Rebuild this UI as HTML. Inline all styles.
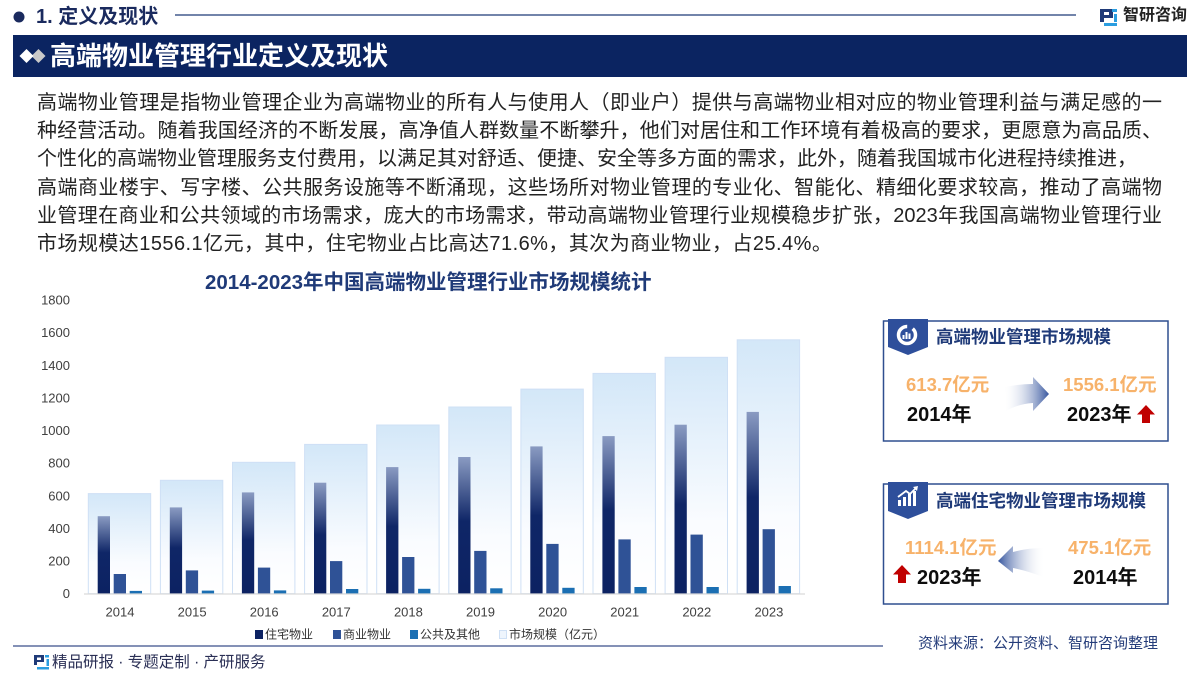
<!DOCTYPE html>
<html><head><meta charset="utf-8">
<style>
html,body{margin:0;padding:0;background:#fff;}
body{width:1200px;height:674px;position:relative;overflow:hidden;font-family:"Liberation Sans","Noto Sans CJK SC",sans-serif;}
.abs{position:absolute;white-space:nowrap;}
.para{position:absolute;left:37px;top:89px;width:1125px;font-size:20px;color:#222;}
.para div{height:28.2px;line-height:28.2px;white-space:nowrap;text-align:justify;text-align-last:justify;}
.para div.last{text-align:left;text-align-last:left;letter-spacing:0.45px;}
</style></head>
<body>
<svg width="1200" height="674" style="position:absolute;left:0;top:0" xmlns="http://www.w3.org/2000/svg">
<defs>
<linearGradient id="bg" x1="0" y1="0" x2="0" y2="1">
<stop offset="0" stop-color="#d3e7f8"/><stop offset="0.7" stop-color="#fafcff"/><stop offset="1" stop-color="#ffffff"/>
</linearGradient>
<linearGradient id="res" x1="0" y1="0" x2="0" y2="1">
<stop offset="0" stop-color="#8a9bc2"/><stop offset="0.47" stop-color="#0f2667"/><stop offset="1" stop-color="#0c2262"/>
</linearGradient>
<linearGradient id="ar1" gradientUnits="userSpaceOnUse" x1="1003" y1="0" x2="1050" y2="0">
<stop offset="0" stop-color="#ffffff" stop-opacity="0"/><stop offset="1" stop-color="#2e4f9b"/>
</linearGradient>
<linearGradient id="ar2" gradientUnits="userSpaceOnUse" x1="1045" y1="0" x2="997" y2="0">
<stop offset="0" stop-color="#ffffff" stop-opacity="0"/><stop offset="1" stop-color="#2e4f9b"/>
</linearGradient>
</defs>

<!-- header -->
<circle cx="19" cy="17" r="5.5" fill="#1a2a5e"/>
<line x1="175" y1="15" x2="1076" y2="15" stroke="#1f3a78" stroke-width="1.2"/>
<!-- logo top -->
<g>
<path d="M1100 9 H1113 V18 H1104 V22 H1100 Z M1104 12 V15 H1109 V12 Z" fill="#1f3a78" fill-rule="evenodd"/>
<rect x="1112" y="9" width="5" height="3" fill="#2a9de0"/>
<rect x="1114" y="14" width="3" height="8" fill="#2a9de0"/>
<rect x="1104" y="23" width="13" height="3" fill="#2a9de0"/>
</g>
<!-- banner -->
<rect x="13" y="35" width="1174" height="42" fill="#0b2461"/>
<polygon points="38.5,49 45.5,56 38.5,63 31.5,56" fill="#c9c9c9"/>
<polygon points="26.5,49 33.5,56 26.5,63 19.5,56" fill="#ffffff"/>

<!-- chart -->
<g>
<rect x="88.3" y="493.6" width="62.4" height="100.1" fill="url(#bg)" stroke="#cfe0f5" stroke-width="1"/>
<rect x="160.4" y="480.3" width="62.4" height="113.4" fill="url(#bg)" stroke="#cfe0f5" stroke-width="1"/>
<rect x="232.5" y="462.3" width="62.4" height="131.4" fill="url(#bg)" stroke="#cfe0f5" stroke-width="1"/>
<rect x="304.6" y="444.4" width="62.4" height="149.3" fill="url(#bg)" stroke="#cfe0f5" stroke-width="1"/>
<rect x="376.7" y="425.0" width="62.4" height="168.7" fill="url(#bg)" stroke="#cfe0f5" stroke-width="1"/>
<rect x="448.8" y="407.0" width="62.4" height="186.7" fill="url(#bg)" stroke="#cfe0f5" stroke-width="1"/>
<rect x="520.9" y="389.1" width="62.4" height="204.6" fill="url(#bg)" stroke="#cfe0f5" stroke-width="1"/>
<rect x="593.0" y="373.4" width="62.4" height="220.3" fill="url(#bg)" stroke="#cfe0f5" stroke-width="1"/>
<rect x="665.1" y="357.3" width="62.4" height="236.4" fill="url(#bg)" stroke="#cfe0f5" stroke-width="1"/>
<rect x="737.2" y="339.8" width="62.4" height="253.9" fill="url(#bg)" stroke="#cfe0f5" stroke-width="1"/>

<g fill="url(#res)">
<rect x="97.7" y="516.2" width="12.3" height="77.5"/>
<rect x="169.8" y="507.4" width="12.3" height="86.3"/>
<rect x="241.9" y="492.4" width="12.3" height="101.3"/>
<rect x="314.0" y="482.7" width="12.3" height="111.0"/>
<rect x="386.1" y="467.1" width="12.3" height="126.6"/>
<rect x="458.2" y="457.0" width="12.3" height="136.7"/>
<rect x="530.3" y="446.4" width="12.3" height="147.3"/>
<rect x="602.4" y="436.1" width="12.3" height="157.6"/>
<rect x="674.5" y="424.7" width="12.3" height="169.0"/>
<rect x="746.6" y="411.9" width="12.3" height="181.8"/>
</g>
<g fill="#2f5296">
<rect x="113.7" y="574.0" width="12.3" height="19.7"/>
<rect x="185.8" y="570.4" width="12.3" height="23.3"/>
<rect x="257.9" y="567.6" width="12.3" height="26.1"/>
<rect x="330.0" y="561.1" width="12.3" height="32.6"/>
<rect x="402.1" y="557.0" width="12.3" height="36.7"/>
<rect x="474.2" y="550.9" width="12.3" height="42.8"/>
<rect x="546.3" y="543.9" width="12.3" height="49.8"/>
<rect x="618.4" y="539.4" width="12.3" height="54.3"/>
<rect x="690.5" y="534.6" width="12.3" height="59.1"/>
<rect x="762.6" y="529.2" width="12.3" height="64.5"/>
</g>
<g fill="#1b6fb3">
<rect x="129.7" y="590.9" width="12.3" height="2.8"/>
<rect x="201.8" y="590.6" width="12.3" height="3.1"/>
<rect x="273.9" y="590.4" width="12.3" height="3.3"/>
<rect x="346.0" y="589.0" width="12.3" height="4.7"/>
<rect x="418.1" y="588.8" width="12.3" height="4.9"/>
<rect x="490.2" y="588.3" width="12.3" height="5.4"/>
<rect x="562.3" y="587.8" width="12.3" height="5.9"/>
<rect x="634.4" y="587.0" width="12.3" height="6.7"/>
<rect x="706.5" y="587.0" width="12.3" height="6.7"/>
<rect x="778.6" y="586.0" width="12.3" height="7.7"/>
</g>
<line x1="84" y1="594" x2="805" y2="594" stroke="#d9d9d9" stroke-width="1.2"/>

<g font-size="13" fill="#404040" text-anchor="end" dominant-baseline="central" font-family="Liberation Sans, sans-serif">
<text x="70" y="593.7">0</text>
<text x="70" y="561.1">200</text>
<text x="70" y="528.4">400</text>
<text x="70" y="495.8">600</text>
<text x="70" y="463.2">800</text>
<text x="70" y="430.5">1000</text>
<text x="70" y="397.9">1200</text>
<text x="70" y="365.3">1400</text>
<text x="70" y="332.6">1600</text>
<text x="70" y="300">1800</text>
</g>
<g font-size="13" fill="#404040" text-anchor="middle" dominant-baseline="central" font-family="Liberation Sans, sans-serif">
<text x="120" y="612">2014</text>
<text x="192.1" y="612">2015</text>
<text x="264.2" y="612">2016</text>
<text x="336.3" y="612">2017</text>
<text x="408.4" y="612">2018</text>
<text x="480.5" y="612">2019</text>
<text x="552.6" y="612">2020</text>
<text x="624.7" y="612">2021</text>
<text x="696.8" y="612">2022</text>
<text x="768.9" y="612">2023</text>
</g>
<!-- legend -->
<rect x="255" y="630" width="8" height="9" fill="#0c2262"/>
<rect x="333" y="630" width="8" height="9" fill="#2f5296"/>
<rect x="410" y="630" width="8" height="9" fill="#1b6fb3"/>
<rect x="499.5" y="630.5" width="7" height="8" fill="#eef5fd" stroke="#cfe0f5" stroke-width="1"/>
<g font-size="12" fill="#333" dominant-baseline="central" font-family="Liberation Sans, Noto Sans CJK SC, sans-serif">
<text x="265" y="634.5">住宅物业</text>
<text x="343" y="634.5">商业物业</text>
<text x="420" y="634.5">公共及其他</text>
<text x="509" y="634.5">市场规模（亿元）</text>
</g>
</g>

<!-- footer -->
<line x1="13" y1="646" x2="883" y2="646" stroke="#3a4f8a" stroke-width="1.3"/>
<g>
<path d="M34 655 H44 V662 H37 V665 H34 Z M37 657.5 V660 H41 V657.5 Z" fill="#1f3a78" fill-rule="evenodd"/>
<rect x="45" y="655" width="4" height="2.5" fill="#2a9de0"/>
<rect x="46.5" y="659" width="2.5" height="7" fill="#2a9de0"/>
<rect x="37" y="667" width="12" height="2.5" fill="#2a9de0"/>
</g>

<!-- panel 1 -->
<rect x="883.5" y="321" width="284.5" height="120" fill="#fff" stroke="#2f4f8f" stroke-width="1.5"/>
<polygon points="888,319 928,319 928,347 908,355 888,347" fill="#2e4f9b"/>
<circle cx="907" cy="335" r="8.5" fill="none" stroke="#fff" stroke-width="3.5" stroke-dasharray="40 6"/>
<rect x="902.5" y="335" width="2" height="4" fill="#fff"/>
<rect x="905.5" y="332" width="2" height="7" fill="#fff"/>
<rect x="908.5" y="333.5" width="2" height="5.5" fill="#fff"/>
<path d="M1005 387 Q1020 384 1033 384 L1033 377 L1049 394 L1033 411 L1033 403 Q1018 404 1006 411 Z" fill="url(#ar1)"/>
<polygon points="1146,405 1155,414.5 1150,414.5 1150,423 1142,423 1142,414.5 1137,414.5" fill="#c00000"/>

<!-- panel 2 -->
<rect x="883.5" y="484" width="284.5" height="120" fill="#fff" stroke="#2f4f8f" stroke-width="1.5"/>
<polygon points="888,482 928,482 928,511 908,519 888,511" fill="#2e4f9b"/>
<g fill="#fff">
<rect x="898" y="500" width="3" height="6"/>
<rect x="903" y="497" width="3" height="9"/>
<rect x="908" y="494" width="3" height="12"/>
<rect x="913" y="491" width="3" height="15"/>
</g>
<path d="M898 497 L906 491 L910 494 L916 488" fill="none" stroke="#fff" stroke-width="1.8"/>
<polygon points="913,487 918,486 917,491" fill="#fff"/>
<path d="M1043 548 Q1028 548 1013 552 L1013 546 L998 561 L1013 573 L1013 568 Q1028 571 1043 577 Z" fill="url(#ar2)"/>
<polygon points="902,565 911,574.5 906,574.5 906,583 898,583 898,574.5 893,574.5" fill="#c00000"/>
</svg>

<div class="abs" style="left:36px;top:4px;font-size:20px;font-weight:bold;color:#1a2a5e;line-height:26px;">1. 定义及现状</div>
<div class="abs" style="left:1123px;top:5px;font-size:16px;font-weight:bold;color:#222;line-height:22px;">智研咨询</div>
<div class="abs" style="left:50px;top:39px;font-size:26px;font-weight:bold;color:#fff;line-height:34px;">高端物业管理行业定义及现状</div>

<div class="para">
<div>高端物业管理是指物业管理企业为高端物业的所有人与使用人（即业户）提供与高端物业相对应的物业管理利益与满足感的一</div>
<div>种经营活动。随着我国经济的不断发展，高净值人群数量不断攀升，他们对居住和工作环境有着极高的要求，更愿意为高品质、</div>
<div style="width:1100px">个性化的高端物业管理服务支付费用，以满足其对舒适、便捷、安全等多方面的需求，此外，随着我国城市化进程持续推进，</div>
<div>高端商业楼宇、写字楼、公共服务设施等不断涌现，这些场所对物业管理的专业化、智能化、精细化要求较高，推动了高端物</div>
<div>业管理在商业和公共领域的市场需求，庞大的市场需求，带动高端物业管理行业规模稳步扩张，2023年我国高端物业管理行业</div>
<div class="last">市场规模达1556.1亿元，其中，住宅物业占比高达71.6%，其次为商业物业，占25.4%。</div>
</div>

<div class="abs" style="left:205px;top:269px;font-size:20.5px;font-weight:bold;color:#1f3a78;line-height:28px;">2014-2023年中国高端物业管理行业市场规模统计</div>

<div class="abs" style="left:936px;top:325px;font-size:17.5px;font-weight:bold;color:#1f3a78;line-height:24px;">高端物业管理市场规模</div>
<div class="abs" style="left:906px;top:373px;font-size:18.5px;font-weight:bold;color:#f7b26a;line-height:24px;">613.7亿元</div>
<div class="abs" style="left:907px;top:402px;font-size:20px;font-weight:bold;color:#0d0d0d;line-height:26px;">2014年</div>
<div class="abs" style="left:1063px;top:373px;font-size:18.5px;font-weight:bold;color:#f7b26a;line-height:24px;">1556.1亿元</div>
<div class="abs" style="left:1067px;top:402px;font-size:20px;font-weight:bold;color:#0d0d0d;line-height:26px;">2023年</div>

<div class="abs" style="left:936px;top:489px;font-size:17.5px;font-weight:bold;color:#1f3a78;line-height:24px;">高端住宅物业管理市场规模</div>
<div class="abs" style="left:905px;top:536px;font-size:18.5px;font-weight:bold;color:#f7b26a;line-height:24px;">1114.1亿元</div>
<div class="abs" style="left:917px;top:565px;font-size:20px;font-weight:bold;color:#0d0d0d;line-height:26px;">2023年</div>
<div class="abs" style="left:1068px;top:536px;font-size:18.5px;font-weight:bold;color:#f7b26a;line-height:24px;">475.1亿元</div>
<div class="abs" style="left:1073px;top:565px;font-size:20px;font-weight:bold;color:#0d0d0d;line-height:26px;">2014年</div>

<div class="abs" style="left:918px;top:634px;font-size:15px;color:#243c7a;line-height:20px;">资料来源：公开资料、智研咨询整理</div>
<div class="abs" style="left:52px;top:653px;font-size:15.5px;color:#2a2f55;line-height:20px;">精品研报 · 专题定制 · 产研服务</div>
</body></html>
